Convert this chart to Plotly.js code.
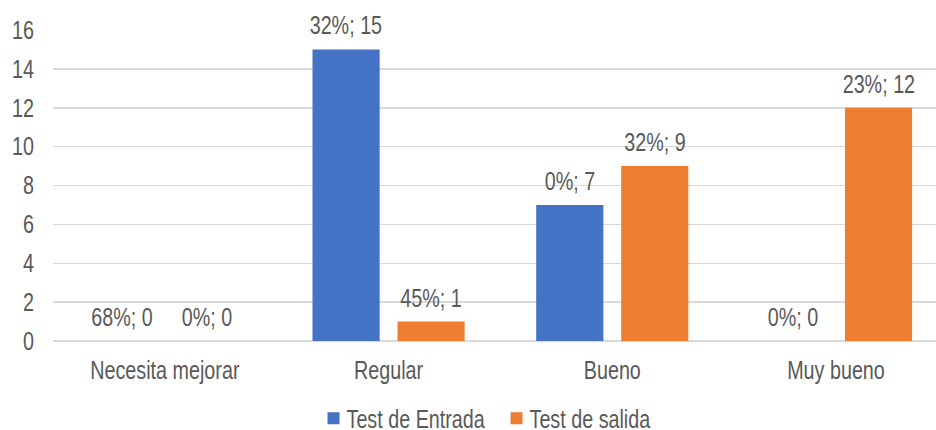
<!DOCTYPE html>
<html>
<head>
<meta charset="utf-8">
<script src="https://cdn.plot.ly/plotly-3.0.1.min.js"></script>
<style>html,body{margin:0;padding:0;background:#fff;}#chart{width:936px;height:430px;}</style>
</head>
<body>
<div id="chart"></div>
<script>
const categories = ["Necesita mejorar", "Regular", "Bueno", "Muy bueno"];
const seriesNames = ["Test de Entrada", "Test de salida"];
const entradaValues = [0, 15, 7, 0];
const salidaValues = [0, 1, 9, 12];
const entradaPct = ["68%", "32%", "0%", "0%"];
const salidaPct = ["0%", "45%", "32%", "23%"];
const yTicks = [0, 2, 4, 6, 8, 10, 12, 14, 16];

const FONT = '"Liberation Sans", Arial, sans-serif';
const FS = 25;
const TXT = '#595959';
const NARROW = 0.79; // emulate a narrow (Arial Narrow-like) face
const bargap = 0.24, bargroupgap = 0.21;
const colors = ['#4472C4', '#ED7D31'];

const series = [
  {name: seriesNames[0], y: entradaValues, pct: entradaPct, color: colors[0]},
  {name: seriesNames[1], y: salidaValues, pct: salidaPct, color: colors[1]}
];

const data = series.map(s => ({
  type: 'bar', name: s.name, x: categories, y: s.y,
  marker: {color: s.color}, hoverinfo: 'skip'
}));

const slot = (1 - bargap) / series.length;
const annotations = [];
series.forEach((s, k) => {
  const off = (k - (series.length - 1) / 2) * slot;
  s.y.forEach((v, i) => {
    annotations.push({
      x: i + off, y: v, xref: 'x', yref: 'y',
      text: s.pct[i] + '; ' + v, showarrow: false,
      yanchor: 'bottom', xanchor: 'center', yshift: 8,
      font: {family: FONT, size: FS, color: TXT}
    });
  });
});

const layout = {
  width: 936, height: 430,
  margin: {l: 53, r: 0, t: 30, b: 89},
  paper_bgcolor: '#fff', plot_bgcolor: '#fff',
  font: {family: FONT, size: FS, color: TXT},
  barmode: 'group', bargap: bargap, bargroupgap: bargroupgap,
  showlegend: true,
  legend: {orientation: 'h', xref: 'container', x: 0.523, xanchor: 'center',
           yref: 'container', y: 0.027, yanchor: 'middle',
           entrywidth: 138, entrywidthmode: 'pixels', itemwidth: 30,
           font: {family: FONT, size: FS, color: TXT}, traceorder: 'normal'},
  xaxis: {type: 'category', range: [-0.5, 3.447], showgrid: false, zeroline: false,
          showline: false, ticks: '', ticklabelstandoff: 12,
          tickfont: {family: FONT, size: FS, color: TXT}, fixedrange: true},
  yaxis: {range: [0, 16], tickvals: yTicks, showgrid: true, gridcolor: '#D9D9D9', gridwidth: 1.5,
          zeroline: true, zerolinecolor: '#D9D9D9', zerolinewidth: 1.5, showline: false,
          ticks: '', ticklabelstandoff: 18,
          tickfont: {family: FONT, size: FS, color: TXT}, fixedrange: true},
  annotations: annotations
};

Plotly.newPlot('chart', data, layout, {displayModeBar: false, staticPlot: true}).then(gd => {
  gd.querySelectorAll('svg text').forEach(t => {
    const x = parseFloat(t.getAttribute('x')) || 0;
    const y = parseFloat(t.getAttribute('y')) || 0;
    const prev = t.getAttribute('transform') || '';
    t.setAttribute('transform', prev + ' translate(' + x + ',' + y + ') scale(' + NARROW + ',1) translate(' + (-x) + ',' + (-y) + ')');
  });
  gd.querySelectorAll('.legend .legendpoints').forEach(p => {
    const prev = p.getAttribute('transform') || '';
    p.setAttribute('transform', prev + ' translate(7,0)');
  });
});
</script>
</body>
</html>
